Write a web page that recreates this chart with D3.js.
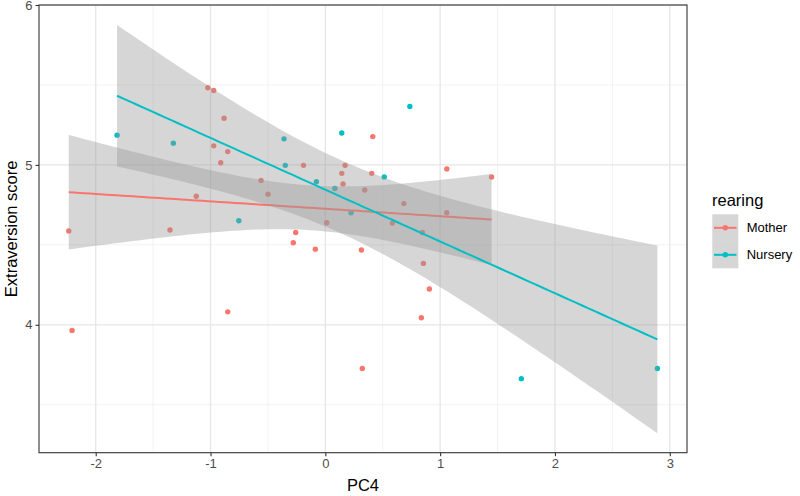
<!DOCTYPE html>
<html><head><meta charset="utf-8">
<script src="https://cdn.jsdelivr.net/npm/d3@7"></script>
<style>body{margin:0;background:#fff}svg{display:block}text{font-family:"Liberation Sans",Arial,sans-serif}</style>
</head><body>
<svg id="c" width="800" height="496"></svg>
<script>
const groups = ["Mother", "Nursery"];
const colors = ["#F8766D", "#00BFC4"];
const motherX = [-2.235,-2.206,-1.353,-1.124,-1.024,-0.972,-0.882,-0.972,-0.850,-0.911,-0.850,-0.560,-0.499,-0.190,0.172,0.143,0.154,0.413,0.404,0.343,0.012,-0.258,-0.279,-0.087,0.314,0.322,0.684,1.058,1.448,1.058,0.584,0.845,0.854,0.906,0.836];
const motherY = [4.587,3.965,4.593,4.804,5.482,5.465,5.292,5.119,5.083,5.013,4.081,4.903,4.817,4.997,4.997,4.947,4.881,5.177,4.947,4.843,4.638,4.577,4.513,4.473,4.468,3.727,4.758,4.975,4.924,4.701,4.636,4.577,4.384,4.224,4.044];
const nurseryX = [-1.814,-1.324,-0.754,-0.360,-0.349,-0.078,0.083,0.224,0.513,0.143,0.736,1.707,2.892];
const nurseryY = [5.186,5.136,4.651,5.163,4.997,4.895,4.852,4.701,4.925,5.199,5.365,3.663,3.727];
const xTicks = [-2,-1,0,1,2,3];
const yTicks = [4,5,6];
const xMinor = [-1.5,-0.5,0.5,1.5,2.5];
const yMinor = [3.5,4.5,5.5];
const tQuant = {Mother: 2.0345, Nursery: 2.201}; // qt(0.975, n-2)

const svg = d3.select("#c");
const L = 39, R = 687, T = 5, B = 452.7;
const x = d3.scaleLinear().domain([-2.494, 3.15]).range([L, R]);
const y = d3.scaleLinear().domain([3.2, 6.0]).range([B, T]);

// grid
const g = svg.append("g");
g.selectAll(".mx").data(xMinor).join("line").attr("x1", d=>x(d)).attr("x2", d=>x(d)).attr("y1", T).attr("y2", B).attr("stroke", "#f2f2f2").attr("stroke-width", 1);
g.selectAll(".my").data(yMinor).join("line").attr("y1", d=>y(d)).attr("y2", d=>y(d)).attr("x1", L).attr("x2", R).attr("stroke", "#f2f2f2").attr("stroke-width", 1);
g.selectAll(".Mx").data(xTicks).join("line").attr("x1", d=>x(d)).attr("x2", d=>x(d)).attr("y1", T).attr("y2", B).attr("stroke", "#e6e6e6").attr("stroke-width", 1.3);
g.selectAll(".My").data(yTicks).join("line").attr("y1", d=>y(d)).attr("y2", d=>y(d)).attr("x1", L).attr("x2", R).attr("stroke", "#e6e6e6").attr("stroke-width", 1.3);

const data = [
  {name: "Mother", xs: motherX, ys: motherY, color: colors[0]},
  {name: "Nursery", xs: nurseryX, ys: nurseryY, color: colors[1]}
];

// points
data.forEach(s => {
  svg.append("g").selectAll("circle").data(s.xs.map((v,i)=>[v, s.ys[i]])).join("circle")
    .attr("cx", d=>x(d[0])).attr("cy", d=>y(d[1])).attr("r", 2.7).attr("fill", s.color);
});

// smooths
data.forEach(s => {
  const n = s.xs.length;
  const mx = d3.mean(s.xs), my = d3.mean(s.ys);
  let sxx = 0, sxy = 0;
  s.xs.forEach((v,i)=>{ sxx += (v-mx)*(v-mx); sxy += (v-mx)*(s.ys[i]-my); });
  const b = sxy/sxx, a = my - b*mx;
  let sse = 0;
  s.xs.forEach((v,i)=>{ const r = s.ys[i] - (a + b*v); sse += r*r; });
  const sd = Math.sqrt(sse/(n-2));
  const x0 = d3.min(s.xs), x1 = d3.max(s.xs);
  const pts = d3.range(80).map(i => {
    const xv = x0 + (x1-x0)*i/79;
    const f = a + b*xv;
    const se = sd*Math.sqrt(1/n + (xv-mx)*(xv-mx)/sxx);
    const t = tQuant[s.name];
    return {x: xv, f, lo: f - t*se, hi: f + t*se};
  });
  svg.append("path").datum(pts)
    .attr("d", d3.area().x(d=>x(d.x)).y0(d=>y(d.lo)).y1(d=>y(d.hi)))
    .attr("fill", "#999999").attr("fill-opacity", 0.4);
  svg.append("path").datum(pts)
    .attr("d", d3.line().x(d=>x(d.x)).y(d=>y(d.f)))
    .attr("fill", "none").attr("stroke", s.color).attr("stroke-width", 2);
});

// panel border
svg.append("rect").attr("x", L).attr("y", T).attr("width", R-L).attr("height", B-T)
  .attr("fill", "none").attr("stroke", "#333333").attr("stroke-width", 1.1);

// axes
const xa = svg.append("g").attr("transform", `translate(0,${B})`)
  .call(d3.axisBottom(x).tickValues(xTicks).tickSize(3.5).tickSizeOuter(0).tickPadding(3).tickFormat(d=>d<0?"-"+Math.abs(d):d));
xa.select(".domain").remove();
xa.selectAll("line").attr("stroke", "#333333").attr("stroke-width", 1.1);
xa.selectAll("text").attr("fill", "#4d4d4d").style("font-size", "13px").style("font-family", "Liberation Sans, Arial, sans-serif");

const ya = svg.append("g").attr("transform", `translate(${L},0)`)
  .call(d3.axisLeft(y).tickValues(yTicks).tickSize(3.5).tickSizeOuter(0).tickPadding(3).tickFormat(d3.format("d")));
ya.select(".domain").remove();
ya.selectAll("line").attr("stroke", "#333333").attr("stroke-width", 1.1);
ya.selectAll("text").attr("fill", "#4d4d4d").style("font-size", "13px").style("font-family", "Liberation Sans, Arial, sans-serif");

// axis titles
svg.append("text").attr("x", (L+R)/2).attr("y", 491).attr("text-anchor", "middle")
  .style("font-size", "16.5px").attr("fill", "#000").text("PC4");
svg.append("text").attr("transform", `translate(17,${(T+B)/2}) rotate(-90)`).attr("text-anchor", "middle")
  .style("font-size", "16.5px").attr("fill", "#000").text("Extraversion score");

// legend
const lg = svg.append("g");
lg.append("text").attr("x", 712).attr("y", 206).style("font-size", "16.5px").attr("fill", "#000").text("rearing");
groups.forEach((name, i) => {
  const ky = 214.3 + i*27;
  lg.append("rect").attr("x", 712.3).attr("y", ky).attr("width", 26).attr("height", 27).attr("fill", "#999999").attr("fill-opacity", 0.4);
  lg.append("line").attr("x1", 714).attr("x2", 736.5).attr("y1", ky+13.5).attr("y2", ky+13.5).attr("stroke", colors[i]).attr("stroke-width", 2);
  lg.append("circle").attr("cx", 725.3).attr("cy", ky+13.5).attr("r", 2.7).attr("fill", colors[i]);
  lg.append("text").attr("x", 746.7).attr("y", ky+13.5).attr("dy", "0.35em").style("font-size", "13px").attr("fill", "#000").text(name);
});
</script>
</body></html>
